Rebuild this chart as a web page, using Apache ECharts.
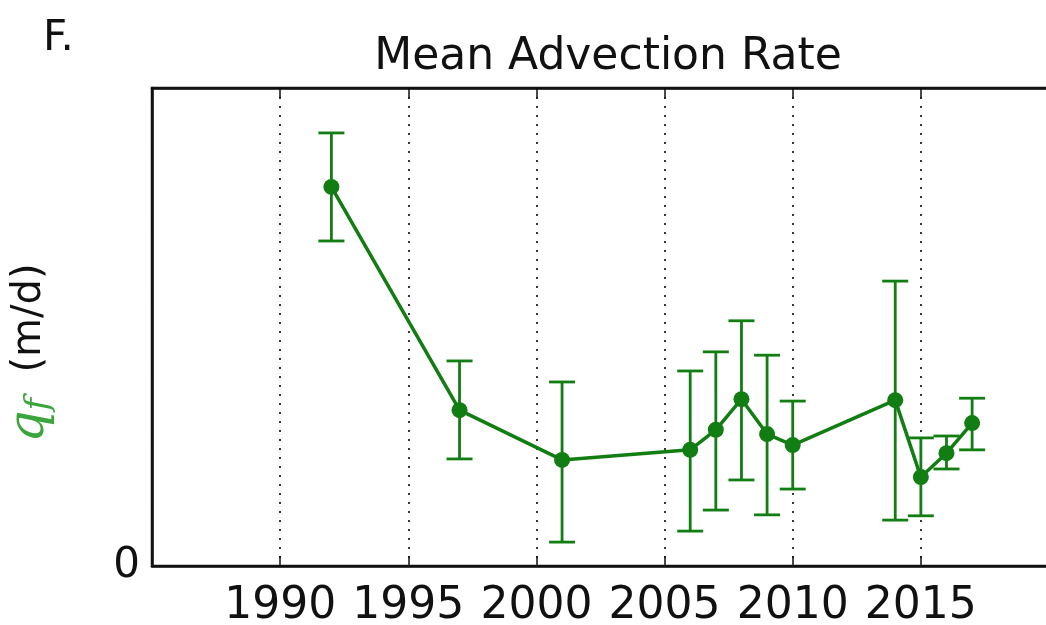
<!DOCTYPE html>
<html><head><meta charset="utf-8">
<script src="https://cdn.jsdelivr.net/npm/echarts@6/dist/echarts.min.js"></script>
<style>html,body{margin:0;padding:0;background:#fff}#c{width:1046px;height:625px}</style>
</head><body><div id="c"></div>
<script>
const years = [1992, 1997, 2001, 2006, 2007, 2008, 2009, 2010, 2014, 2015, 2016, 2017];
const qf    = [7.93, 3.26, 2.22, 2.43, 2.85, 3.49, 2.76, 2.53, 3.47, 1.86, 2.36, 2.99];
const qfHi  = [9.06, 4.29, 3.85, 4.08, 4.48, 5.13, 4.41, 3.45, 5.96, 2.68, 2.72, 3.51];
const qfLo  = [6.80, 2.24, 0.50, 0.73, 1.17, 1.80, 1.07, 1.61, 0.96, 1.05, 2.03, 2.43];
const xTicks = [1990, 1995, 2000, 2005, 2010, 2015];

const green = '#127d12';
const font = 'DejaVu Sans';
const chart = echarts.init(document.getElementById('c'));
chart.setOption({
  backgroundColor: '#fff',
  animation: false,
  title: [
    {text: 'Mean Advection Rate', left: 603, top: 31, textAlign: 'center',
     textStyle: {fontFamily: font, fontSize: 44, fontWeight: 'normal', color: '#111'}},
    {text: 'F.', left: 38, top: 13,
     textStyle: {fontFamily: font, fontSize: 42, fontWeight: 'normal', color: '#111'}}
  ],
  grid: {left: 152, right: -3, top: 88, bottom: 59, containLabel: false, outerBoundsMode: 'none',
    show: true, borderColor: '#111', borderWidth: 2.5, backgroundColor: '#fff'},
  xAxis: [{
    type: 'value', min: 1985, max: 2020, interval: 5,
    axisLine: {show: true, lineStyle: {color: '#111', width: 2.5}},
    axisTick: {show: true, inside: true, length: 10, lineStyle: {color: '#111', width: 1.5}},
    axisLabel: {fontFamily: font, fontSize: 44, color: '#111', margin: 19,
      formatter: v => xTicks.includes(v) ? String(v) : ''},
    splitLine: {show: true, lineStyle: {color: '#222', type: [2, 7], width: 1.8}}
  }, {
    type: 'value', position: 'top', min: 1985, max: 2020, interval: 5,
    axisLine: {show: true, lineStyle: {color: '#111', width: 2.5}},
    axisTick: {show: true, inside: true, length: 10, lineStyle: {color: '#111', width: 1.5}},
    axisLabel: {show: false}, splitLine: {show: false}
  }],
  yAxis: {
    type: 'value', min: 0, max: 10, interval: 10,
    axisLine: {show: true, lineStyle: {color: '#111', width: 2.5}},
    axisTick: {show: false},
    splitLine: {show: false},
    axisLabel: {fontFamily: font, fontSize: 42, color: '#111', margin: 12,
      formatter: v => v === 0 ? '0' : ''},
    name: '{q|q}{f|f}{u|  (m/d)}',
    nameLocation: 'middle', nameGap: 96, nameRotate: 90,
    nameTextStyle: {
      padding: [0, 52, 0, 0],
      rich: {
        q: {fontFamily: 'DejaVu Serif', fontStyle: 'italic', fontSize: 50, color: '#3aa53a'},
        f: {fontFamily: 'DejaVu Serif', fontStyle: 'italic', fontSize: 34, color: '#3aa53a', verticalAlign: 'bottom', padding: [18, 0, 0, 0]},
        u: {fontFamily: font, fontSize: 40, color: '#111'}
      }
    }
  },
  series: [{
    type: 'custom',
    xAxisIndex: 0,
    data: years.map((y, i) => [y, qfLo[i], qfHi[i]]),
    renderItem: function (params, api) {
      const x = api.value(0);
      const lo = api.coord([x, api.value(1)]);
      const hi = api.coord([x, api.value(2)]);
      const w = 13;
      const st = {stroke: green, lineWidth: 2.8};
      return {type: 'group', children: [
        {type: 'line', shape: {x1: lo[0], y1: lo[1], x2: hi[0], y2: hi[1]}, style: st},
        {type: 'line', shape: {x1: lo[0] - w, y1: lo[1], x2: lo[0] + w, y2: lo[1]}, style: st},
        {type: 'line', shape: {x1: hi[0] - w, y1: hi[1], x2: hi[0] + w, y2: hi[1]}, style: st}
      ]};
    },
    z: 2
  }, {
    type: 'line',
    xAxisIndex: 0,
    data: years.map((y, i) => [y, qf[i]]),
    symbol: 'circle', symbolSize: 16,
    lineStyle: {color: green, width: 3.5},
    itemStyle: {color: green},
    z: 3
  }]
});
</script></body></html>
